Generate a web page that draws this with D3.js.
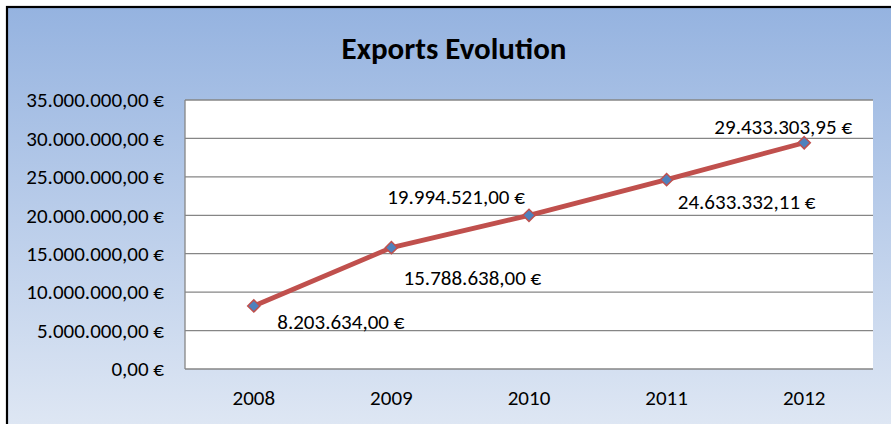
<!DOCTYPE html>
<html lang="en">
<head>
    <meta charset="UTF-8">
    <title>Exports Evolution</title>
    <script src="https://d3js.org/d3.v7.min.js"></script>
    <style>
        body {
            margin: 0;
            background: #fff;
        }
        svg {
            display: block;
            font-family: 'Carlito', 'Lato', sans-serif;
        }
        .chart-title {
            font-size: 31px;
            font-weight: bold;
            fill: #000;
        }
        .tick-label, .year-label, .value-label {
            font-size: 21px;
            fill: #000;
        }
        .grid line {
            stroke: #868686;
            stroke-width: 1.3;
        }
    </style>
</head>
<body>
    <svg width="891" height="424">
        <defs>
            <linearGradient id="bg" x1="0" y1="0" x2="0" y2="1">
                <stop offset="0%" stop-color="#95b3e0" />
                <stop offset="100%" stop-color="#e0e8f4" />
            </linearGradient>
        </defs>
    </svg>

    <script>
        const years = ["2008", "2009", "2010", "2011", "2012"];
        const exportsValues = [8203634.00, 15788638.00, 19994521.00, 24633332.11, 29433303.95];
        const yTicks = [0, 5000000, 10000000, 15000000, 20000000, 25000000, 30000000, 35000000];
        // label offsets from the point (label centre), as placed by hand in the original
        const labelOffsets = [[87, 16], [81, 30], [-73, -19], [80, 22], [-21, -16]];

        const locale = d3.formatLocale({
            decimal: ",",
            thousands: ".",
            grouping: [3],
            currency: ["", " €"]
        });
        const fmt = v => locale.format(",.2f")(v) + " €";

        const svg = d3.select("svg");
        const plot = {left: 185, right: 873, top: 100, bottom: 369};

        // chart frame
        svg.append("rect")
            .attr("x", 7)
            .attr("y", 7)
            .attr("width", 900)
            .attr("height", 430)
            .attr("fill", "url(#bg)")
            .attr("stroke", "#000")
            .attr("stroke-width", 2.2);

        svg.append("text")
            .attr("class", "chart-title")
            .attr("x", 454)
            .attr("y", 59)
            .attr("text-anchor", "middle")
            .text("Exports Evolution");

        const x = d3.scaleBand(years, [plot.left, plot.right]);
        const y = d3.scaleLinear([0, 35000000], [plot.bottom, plot.top]);

        svg.append("rect")
            .attr("x", plot.left)
            .attr("y", plot.top)
            .attr("width", plot.right - plot.left)
            .attr("height", plot.bottom - plot.top)
            .attr("fill", "#fff");

        svg.append("g")
            .attr("class", "grid")
            .selectAll("line")
            .data(yTicks)
            .join("line")
            .attr("x1", plot.left)
            .attr("x2", plot.right)
            .attr("y1", d => y(d))
            .attr("y2", d => y(d));

        svg.append("line")
            .attr("x1", plot.left).attr("x2", plot.left)
            .attr("y1", plot.top).attr("y2", plot.bottom)
            .attr("stroke", "#868686")
            .attr("stroke-width", 1.3);

        svg.append("g")
            .selectAll("text")
            .data(yTicks)
            .join("text")
            .attr("class", "tick-label")
            .attr("x", 164)
            .attr("y", d => y(d))
            .attr("dy", "0.35em")
            .attr("text-anchor", "end")
            .text(d => fmt(d));

        svg.append("g")
            .selectAll("text")
            .data(years)
            .join("text")
            .attr("class", "year-label")
            .attr("x", d => x(d) + x.bandwidth() / 2)
            .attr("y", 398)
            .attr("dy", "0.35em")
            .attr("text-anchor", "middle")
            .text(d => d);

        const points = years.map((yr, i) => ({year: yr, value: exportsValues[i], off: labelOffsets[i]}));
        const cx = d => x(d.year) + x.bandwidth() / 2;

        svg.append("path")
            .datum(points)
            .attr("fill", "none")
            .attr("stroke", "#c0504d")
            .attr("stroke-width", 4.8)
            .attr("stroke-linejoin", "round")
            .attr("d", d3.line().x(cx).y(d => y(d.value)));

        svg.append("g")
            .selectAll("path")
            .data(points)
            .join("path")
            .attr("transform", d => `translate(${cx(d)},${y(d.value)})`)
            .attr("d", d3.symbol(d3.symbolDiamond2, 95))
            .attr("fill", "#4f81bd")
            .attr("stroke", "#c0504d")
            .attr("stroke-width", 1.5);

        svg.append("g")
            .selectAll("text")
            .data(points)
            .join("text")
            .attr("class", "value-label")
            .attr("x", d => cx(d) + d.off[0])
            .attr("y", d => y(d.value) + d.off[1])
            .attr("dy", "0.35em")
            .attr("text-anchor", "middle")
            .text(d => fmt(d.value));
    </script>
</body>
</html>
